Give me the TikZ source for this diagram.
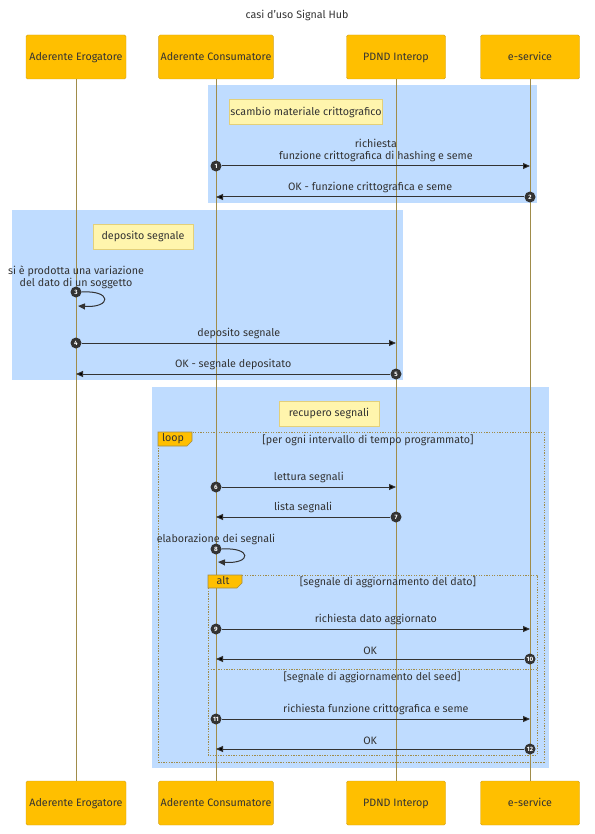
\documentclass[tikz,border=0pt]{standalone}
\usepackage{fontspec}
\setmainfont{Fira Sans}
\usetikzlibrary{arrows.meta,positioning}
\definecolor{actorfill}{HTML}{FFBF00}
\definecolor{actorline}{HTML}{D2A21A}
\definecolor{lifecol}{HTML}{A08C4A}
\definecolor{boxblue}{HTML}{BFDCFF}
\definecolor{notefill}{HTML}{FFF5AD}
\definecolor{noteline}{HTML}{E3D07A}
\definecolor{txt}{HTML}{333333}

\begin{document}
\begin{tikzpicture}[x=1pt,y=-1pt,font=\fontsize{10.7}{12}\selectfont,text=txt,
    actor/.style={draw=actorline,fill=actorfill,minimum height=44pt,inner sep=2pt,rounded corners=1.5pt,
      text height=1.6ex,text depth=0.3ex},
    lifeline/.style={draw=lifecol,line width=1pt},
    group/.style={fill=boxblue,draw=none},
    note/.style={draw=noteline,fill=notefill,minimum height=25pt,inner sep=1pt,text height=1.6ex,text depth=0.3ex},
    frame/.style={draw=lifecol,line width=1pt,dash pattern=on 1.3pt off 1.3pt},
    tab/.style={draw=lifecol,fill=actorfill,line width=0.6pt},
    bubble/.style={circle,fill=txt,text=white,inner sep=0pt,minimum size=11pt,font=\fontsize{6.3}{6}\selectfont\bfseries},
    msg/.style={draw=txt,line width=1pt,-{Triangle[length=7pt,width=6pt]}}]
\useasboundingbox (0,0) rectangle (594,834);
\node (title) at (297,15) {casi d'uso Signal Hub};
% gruppi
\path[group] (208,85) rectangle (537,203);
\path[group] (12,210) rectangle (403,380);
\path[group] (152,387) rectangle (549,768);
\node[note,minimum width=150pt] (n1) at (306,112) {scambio materiale crittografico};
\node[note,minimum width=100pt] (n2) at (143,236.5) {deposito segnale};
\node[note,minimum width=100pt] (n3) at (329,413.5) {recupero segnali};
% attori
\node[actor,minimum width=100pt] (eroT) at (76,57) {Aderente Erogatore};
\node[actor,minimum width=111pt] (conT) at (216,57) {Aderente Consumatore};
\node[actor,minimum width=99pt] (pdndT) at (396,57) {PDND Interop};
\node[actor,minimum width=99pt] (esT) at (530,57) {e-service};
\node[actor,minimum width=100pt] (eroB) at (76,803) {Aderente Erogatore};
\node[actor,minimum width=111pt] (conB) at (216,803) {Aderente Consumatore};
\node[actor,minimum width=99pt] (pdndB) at (396,803) {PDND Interop};
\node[actor,minimum width=99pt] (esB) at (530,803) {e-service};
\draw[lifeline] (eroT) -- (eroB);
\draw[lifeline] (conT) -- (conB);
\draw[lifeline] (pdndT) -- (pdndB);
\draw[lifeline] (esT) -- (esB);
% loop / alt
\draw[frame] (158,432) rectangle (544,762);
\draw[tab] (158,432) -- (192,432) -- (192,441) -- (187,446) -- (158,446) -- cycle;
\node (loop) at (173,439) {loop};
\node (cond1) at (368,440) {[per ogni intervallo di tempo programmato]};
\draw[frame] (208,575) rectangle (537,755);
\draw[frame] (208,669) -- (537,669);
\draw[tab] (208,575) -- (242,575) -- (242,583) -- (237,588) -- (208,588) -- cycle;
\node (alt) at (223,581) {alt};
\node (cond2) at (388,582) {[segnale di aggiornamento del dato]};
\node (cond3) at (372,677) {[segnale di aggiornamento del seed]};
% messaggi
\node[bubble] (b1) at (216,166) {1};
\coordinate (e1) at (530,166);
\node[bubble] (b2) at (530,197) {2};
\coordinate (e2) at (216,197);
\node[bubble] (b3) at (76,292) {3};
\coordinate (e3) at (78,306);
\node[bubble] (b4) at (76,343) {4};
\coordinate (e4) at (396,343);
\node[bubble] (b5) at (396,374) {5};
\coordinate (e5) at (76,374);
\node[bubble] (b6) at (216,487) {6};
\coordinate (e6) at (396,487);
\node[bubble] (b7) at (396,517) {7};
\coordinate (e7) at (216,517);
\node[bubble] (b8) at (216,549) {8};
\coordinate (e8) at (218,562);
\node[bubble] (b9) at (216,629) {9};
\coordinate (e9) at (530,629);
\node[bubble] (b10) at (530,659) {10};
\coordinate (e10) at (216,659);
\node[bubble] (b11) at (216,719) {11};
\coordinate (e11) at (530,719);
\node[bubble] (b12) at (530,749) {12};
\coordinate (e12) at (216,749);
\path[msg]
    (b1) edge node[above=0.5pt,align=center] {richiesta\\funzione crittografica di hashing e seme} (e1)
    (b2) edge node[above=0.5pt] {OK - funzione crittografica e seme} (e2)
    (b4) edge node[above=0.5pt] {deposito segnale} (e4)
    (b5) edge node[above=0.5pt] {OK - segnale depositato} (e5)
    (b6) edge node[above=0.5pt] {lettura segnali} (e6)
    (b7) edge node[above=0.5pt] {lista segnali} (e7)
    (b9) edge node[above=0.5pt] {richiesta dato aggiornato} (e9)
    (b10) edge node[above=0.5pt] {OK} (e10)
    (b11) edge node[above=0.5pt] {richiesta funzione crittografica e seme} (e11)
    (b12) edge node[above=0.5pt] {OK} (e12);
\draw[msg] (b3.east) .. controls (112,290) and (112,308) .. (e3);
\draw[msg] (b8.east) .. controls (252,547) and (252,564) .. (e8);
\node[align=center,above=-6pt of b3] (self3) {si è prodotta una variazione\\del dato di un soggetto};
\node[above=-5pt of b8] (self8) {elaborazione dei segnali};
\end{tikzpicture}
\end{document}
